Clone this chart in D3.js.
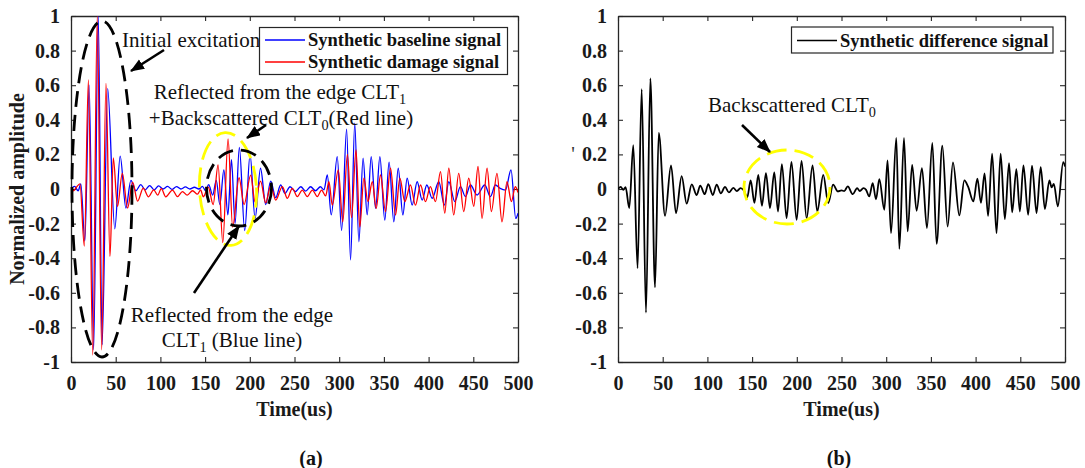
<!DOCTYPE html>
<html>
<head>
<meta charset="utf-8">
<script src="https://cdn.jsdelivr.net/npm/d3@7"></script>
<style>
  body { margin: 0; background: #fff; }
  svg { display: block; }
  text { font-family: "Times New Roman", "Liberation Serif", serif; }
</style>
</head>
<body>
<svg id="chart" width="1085" height="468"></svg>
<script>
// ---- axis ticks -------------------------------------------------------
const xTicks = [0, 50, 100, 150, 200, 250, 300, 350, 400, 450, 500];
const yTicks = [-1, -0.8, -0.6, -0.4, -0.2, 0, 0.2, 0.4, 0.6, 0.8, 1];
const yTickLabels = ["-1", "-0.8", "-0.6", "-0.4", "-0.2", "0", "0.2", "0.4", "0.6", "0.8", "1"];

// ---- synthetic baseline signal (turning points: time in us, amplitude) --
const baselineTime = [0, 4, 8, 11, 15.5, 20.3, 25.3, 30.5, 34.8, 41, 49, 55, 61.4, 67, 72.5, 78, 83, 88, 93, 98,
  103, 108, 113, 118, 123, 128, 133, 138, 143, 147, 150.5, 154, 158.5, 162.5, 166.5, 171, 175.5, 179.5, 183.5,
  188.3, 194.3, 200.3, 205.9, 212, 217.8, 223.4, 229, 234.5, 239.4, 245, 251, 257, 262.5, 268, 273.5, 279, 283,
  286.7, 291.1, 297.8, 302.7, 308.3, 312.7, 317.4, 322, 326.7, 331.3, 335.8, 340.7, 345.5, 351, 355.8, 361.1,
  366, 371.2, 376, 381.6, 387.2, 392.8, 398, 404, 411.4, 417.7, 422.6, 429.3, 435.6, 441.2, 446.8, 454.2, 462.8,
  469.1, 474.7, 480, 485.9, 492.2, 497.5, 500];
const baselineAmp = [0, 0.015, -0.01, 0.03, -0.3, 0.6, -0.93, 1.0, -0.9, 0.58, -0.23, 0.19, -0.11, 0.05, -0.01, 0.025, -0.005, 0.02, -0.005, 0.018,
  0.0, 0.015, -0.002, 0.014, 0.0, 0.012, 0.0, 0.01, 0.0, 0.015, -0.01, 0.025, -0.035, 0.05, -0.09, 0.11, -0.15, 0.17, -0.2,
  0.24, -0.24, 0.2, -0.17, 0.12, -0.09, 0.045, -0.05, 0.023, -0.025, 0.013, -0.015, 0.013, -0.012, 0.013, -0.01, 0.013, -0.005,
  0.081, -0.15, 0.187, -0.24, 0.346, -0.41, 0.38, -0.305, 0.178, -0.15, 0.187, -0.112, 0.187, -0.18, 0.155, -0.19,
  0.12, -0.15, 0.062, -0.093, 0.042, -0.064, 0.023, -0.054, 0.042, -0.093, 0.042, -0.073, 0.014, -0.044, 0.023, -0.035, 0.023,
  -0.044, 0.023, 0.004, -0.006, 0.11, -0.17, -0.14];

// ---- synthetic damage signal ------------------------------------------
const damageTime = [0, 3, 6, 10, 14.9, 19.5, 24.3, 29.4, 34.3, 39.1, 43.6, 47.3, 52, 57.4, 63.3, 68.9, 74.5, 80.8, 86.7,
  92.5, 97, 101, 106, 113.5, 119, 124.7, 130, 136, 141.5, 145, 148, 153.5, 159, 164.5, 169.8, 175.7, 180.8, 188,
  193.6, 201, 205.9, 212, 217.8, 223.4, 229, 236.4, 242, 247.6, 253.2, 258.7, 264.3, 270, 275.5, 280.3, 284.8,
  288.5, 292.3, 299, 304, 309.2, 313.8, 318.8, 323, 327.6, 332.1, 337, 341.4, 346.2, 351.8, 357.4, 363, 367.8,
  373.4, 379.7, 385.3, 391, 396.5, 402, 407.7, 413.3, 418.1, 422.6, 428.1, 433.7, 439.3, 444.9, 450.5, 455.3,
  459.8, 465.4, 470.2, 476.5, 482.1, 487.7, 492.6, 497, 500];
const damageAmp = [0.005, -0.01, 0.01, 0.03, -0.33, 0.63, -0.96, 1.0, -0.93, 0.61, -0.39, 0.18, -0.1, 0.09, -0.11, 0.04, -0.07, 0.005, -0.045,
  -0.005, -0.035, 0.002, -0.045, -0.006, -0.044, -0.015, -0.035, -0.01, -0.03, -0.005, -0.045, 0.01, -0.09, 0.14, -0.31, 0.29, -0.22, 0.065,
  -0.09, 0.08, -0.075, 0.045, -0.08, 0.02, -0.064, 0.014, -0.054, 0.004, -0.044, -0.006, -0.044, -0.006, -0.044, -0.006, -0.04,
  0.042, -0.093, 0.11, -0.19, 0.2, -0.165, 0.226, -0.22, 0.062, -0.073, 0.042, -0.112, 0.081, -0.13, 0.12, -0.15, 0.062,
  -0.073, 0.023, -0.093, 0.023, -0.073, 0.014, -0.073, 0.1, -0.14, 0.12, -0.15, 0.09, -0.13, 0.062, -0.1, 0.13,
  -0.17, 0.12, -0.13, 0.09, -0.19, 0.042, -0.073, 0.013, -0.02];

// ---- synthetic difference signal --------------------------------------
const differenceTime = [0, 3, 6, 8.5, 12.6, 17.1, 21.9, 26.5, 31.3, 36.2, 41.4, 45.6, 52.6, 59.3, 64.9, 71.2, 76.8, 82.5,
  88, 92, 97, 101, 106, 110.4, 115, 119.7, 124, 129, 133, 137, 141, 144.5, 148.4, 152.6, 156.9, 161, 165.5, 170,
  174.8, 179, 183.3, 188.6, 194, 199.8, 205.3, 211, 217.6, 222.9, 229.6, 235.2, 240.6, 246, 250, 253, 257, 262.6,
  267.5, 270.5, 274.5, 277.5, 281, 284.9, 288.6, 292.3, 297.9, 301.5, 305.4, 311.3, 314.7, 319.9, 324, 329, 334,
  340, 345.6, 351.6, 356.4, 362.8, 368.7, 374.7, 381.8, 387.4, 391.5, 397.5, 402, 406, 410, 414, 418.5, 423.4, 428,
  432.7, 437.4, 440.9, 445.6, 449.5, 453.5, 458.8, 463.1, 468.2, 472.8, 477.5, 482.5, 485, 487.5, 492, 498, 500];
const differenceAmp = [0, 0.012, -0.005, 0.01, -0.11, 0.253, -0.458, 0.577, -0.715, 0.639, -0.568, 0.325, -0.155, 0.137, -0.14, 0.074, -0.085, 0.027,
  -0.035, 0.02, -0.03, 0.028, -0.035, 0.025, -0.025, 0.012, -0.02, 0.006, -0.012, 0.005, -0.01, -0.05, 0.05, -0.08, 0.082, -0.097, 0.092, -0.11,
  0.096, -0.13, 0.144, -0.168, 0.156, -0.178, 0.162, -0.17, 0.136, -0.13, 0.082, -0.081, 0.025, -0.014, -0.008, -0.012, 0.015, -0.03,
  0.005, -0.012, 0.005, -0.005, -0.043, 0.034, -0.06, 0.057, -0.12, 0.165, -0.255, 0.295, -0.346, 0.295, -0.245, 0.14, -0.126,
  0.12, -0.226, 0.266, -0.317, 0.25, -0.217, 0.154, -0.153, 0.05, 0.015, -0.072, 0.06, -0.08, 0.09, -0.155, 0.204, -0.255, 0.204,
  -0.174, 0.15, -0.135, 0.115, -0.13, 0.136, -0.149, 0.135, -0.139, 0.127, -0.116, 0.05, 0.01, 0.03, -0.1, 0.155, 0.13];

const zip = (ts, vs) => ts.map((t, i) => ({ t, v: vs[i] }));

const svg = d3.select("#chart");
const axisColor = "#262626";
const serif = '"Times New Roman", "Liberation Serif", serif';

// Builds one axes box (MATLAB-like: box on, ticks pointing inward)
function makePanel(left, right, top, bottom, id) {
  const x = d3.scaleLinear().domain([0, 500]).range([left, right]);
  const y = d3.scaleLinear().domain([-1, 1]).range([bottom, top]);
  const g = svg.append("g");

  svg.append("clipPath").attr("id", id)
    .append("rect").attr("x", left).attr("y", top).attr("width", right - left).attr("height", bottom - top);

  const styleAxis = sel => {
    sel.selectAll("path.domain").attr("stroke", axisColor).attr("stroke-width", 1.3);
    sel.selectAll(".tick line").attr("stroke", axisColor).attr("stroke-width", 1.1);
    sel.selectAll("text").attr("font-family", serif).attr("font-weight", "bold")
      .attr("font-size", 20).attr("fill", "#1a1a1a");
  };

  g.append("g").attr("transform", `translate(0,${bottom})`)
    .call(d3.axisBottom(x).tickValues(xTicks).tickSizeInner(-5).tickSizeOuter(0).tickPadding(14).tickFormat(d3.format("d")))
    .call(styleAxis);
  g.append("g").attr("transform", `translate(0,${top})`)
    .call(d3.axisTop(x).tickValues(xTicks).tickSizeInner(-5).tickSizeOuter(0).tickFormat(""))
    .call(styleAxis);
  g.append("g").attr("transform", `translate(${left},0)`)
    .call(d3.axisLeft(y).tickValues(yTicks).tickSizeInner(-5).tickSizeOuter(0).tickPadding(11)
      .tickFormat((d, i) => yTickLabels[i]))
    .call(styleAxis);
  g.append("g").attr("transform", `translate(${right},0)`)
    .call(d3.axisRight(y).tickValues(yTicks).tickSizeInner(-5).tickSizeOuter(0).tickFormat(""))
    .call(styleAxis);

  svg.append("text").attr("x", (left + right) / 2).attr("y", 416)
    .attr("text-anchor", "middle").attr("font-weight", "bold").attr("font-size", 20).attr("fill", "#1a1a1a")
    .text("Time(us)");

  return { x, y, clip: `url(#${id})` };
}

function drawSignal(p, data, color, width) {
  const line = d3.line().x(d => p.x(d.t)).y(d => p.y(d.v)).curve(d3.curveMonotoneX);
  svg.append("path").datum(data).attr("clip-path", p.clip)
    .attr("fill", "none").attr("stroke", color).attr("stroke-width", width)
    .attr("stroke-linejoin", "round").attr("d", line);
}

function dashedEllipse(cx, cy, rx, ry, rot, color, dash, width) {
  svg.append("ellipse").attr("cx", cx).attr("cy", cy).attr("rx", rx).attr("ry", ry)
    .attr("transform", `rotate(${rot},${cx},${cy})`)
    .attr("fill", "none").attr("stroke", color).attr("stroke-width", width)
    .attr("stroke-dasharray", dash);
}

// arrow head marker
svg.append("defs").append("marker").attr("id", "head")
  .attr("markerUnits", "userSpaceOnUse").attr("markerWidth", 14).attr("markerHeight", 12)
  .attr("refX", 13).attr("refY", 5.5).attr("orient", "auto")
  .append("path").attr("d", "M0,0 L14,5.5 L0,11 Z").attr("fill", "#000");

function arrow(x1, y1, x2, y2) {
  svg.append("line").attr("x1", x1).attr("y1", y1).attr("x2", x2).attr("y2", y2)
    .attr("stroke", "#000").attr("stroke-width", 2.6).attr("marker-end", "url(#head)");
}

// text with optional subscript pieces
function note(x, y, parts, anchor = "start", size = 21) {
  const t = svg.append("text").attr("x", x).attr("y", y).attr("text-anchor", anchor)
    .attr("font-size", size).attr("fill", "#111");
  let shifted = false;
  parts.forEach(p => {
    const s = t.append("tspan").text(p.text);
    if (p.sub) { s.attr("font-size", size * 0.68).attr("dy", 5); shifted = true; }
    else if (shifted) { s.attr("dy", -5); shifted = false; }
  });
  return t;
}

// ---------------------------------------------------------------------
// (a) baseline vs damage
const pa = makePanel(71, 518, 16, 362, "clipA");
drawSignal(pa, zip(baselineTime, baselineAmp), "#0000ff", 1.3);
drawSignal(pa, zip(damageTime, damageAmp), "#ff0000", 1.3);

svg.append("text").attr("transform", "translate(24,189) rotate(-90)")
  .attr("text-anchor", "middle").attr("font-weight", "bold").attr("font-size", 20).attr("fill", "#1a1a1a")
  .text("Normalized amplitude");

dashedEllipse(102, 189, 30, 168, 0, "#000", "16,8", 2.8);
dashedEllipse(228, 189, 28.5, 56.5, -3, "#ffff00", "20,8", 2.8);
dashedEllipse(239, 188, 32.5, 38, 0, "#000", "16,8", 2.8);

note(122, 47, [{ text: "Initial excitation" }]);
note(280, 99, [{ text: "Reflected  from the edge CLT" }, { text: "1", sub: true }], "middle");
note(281, 125, [{ text: "+Backscattered CLT" }, { text: "0", sub: true }, { text: "(Red line)" }], "middle");
note(232, 322, [{ text: "Reflected  from the edge" }], "middle");
note(232, 347, [{ text: "CLT" }, { text: "1", sub: true }, { text: " (Blue line)" }], "middle");

arrow(164, 50, 131, 71);
arrow(266, 125, 247, 138);
arrow(194, 293, 239, 226);

// legend (a)
const legA = svg.append("g");
legA.append("rect").attr("x", 259.5).attr("y", 27.5).attr("width", 248).attr("height", 47)
  .attr("fill", "#fff").attr("stroke", axisColor).attr("stroke-width", 1.2);
[["Synthetic baseline signal", "#0000ff", 40], ["Synthetic damage signal", "#ff0000", 62]].forEach(([label, c, yy]) => {
  legA.append("line").attr("x1", 265).attr("x2", 305).attr("y1", yy).attr("y2", yy)
    .attr("stroke", c).attr("stroke-width", 1.5);
  legA.append("text").attr("x", 308).attr("y", yy + 6).attr("font-size", 18.5).attr("font-weight", "bold")
    .attr("fill", "#111").text(label);
});

svg.append("text").attr("x", 311).attr("y", 465).attr("text-anchor", "middle")
  .attr("font-size", 20).attr("font-weight", "bold").attr("fill", "#111").text("(a)");

// ---------------------------------------------------------------------
// (b) difference signal
const pb = makePanel(618, 1065, 16, 362, "clipB");
drawSignal(pb, zip(differenceTime, differenceAmp), "#000", 1.8);

svg.append("text").attr("x", 573).attr("y", 161).attr("text-anchor", "middle")
  .attr("font-size", 20).attr("fill", "#333").text("'");

dashedEllipse(787, 187, 43, 37, 0, "#ffff00", "20,8", 2.8);
note(708, 112, [{ text: "Backscattered CLT" }, { text: "0", sub: true }]);
arrow(742, 125, 770, 152);

const legB = svg.append("g");
legB.append("rect").attr("x", 791.5).attr("y", 27).attr("width", 261.5).attr("height", 26)
  .attr("fill", "#fff").attr("stroke", axisColor).attr("stroke-width", 1.2);
legB.append("line").attr("x1", 797).attr("x2", 837).attr("y1", 40.5).attr("y2", 40.5)
  .attr("stroke", "#000").attr("stroke-width", 1.5);
legB.append("text").attr("x", 840).attr("y", 46.5).attr("font-size", 18.5).attr("font-weight", "bold")
  .attr("fill", "#111").text("Synthetic difference signal");

svg.append("text").attr("x", 839).attr("y", 465).attr("text-anchor", "middle")
  .attr("font-size", 20).attr("font-weight", "bold").attr("fill", "#111").text("(b)");
</script>
</body>
</html>
